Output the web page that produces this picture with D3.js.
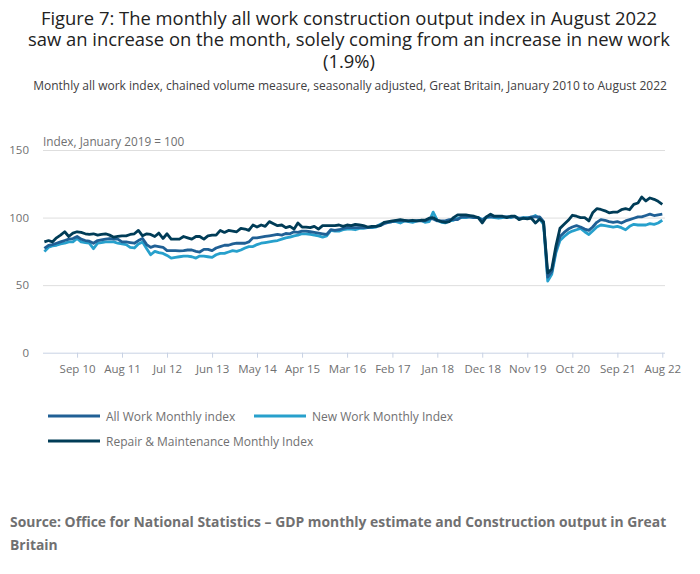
<!DOCTYPE html>
<html><head><meta charset="utf-8">
<script src="https://cdn.jsdelivr.net/npm/d3@7"></script>
<style>
body{margin:0;background:#fff;font-family:"Open Sans",sans-serif;}
svg{display:block}
</style></head>
<body><svg id="c" width="700" height="574"></svg>
<script>
const startMonth = "2010-01";
const allWork = [
77.2,79.5,80,81,82,83,84,84.5,86,84,83,82.5,81,83,83.5,84,84.5,84,84,82,82,81.5,81,83,84.5,80,78,79,78.5,78,
75.5,75.5,75.5,75.3,75.5,76,76,75,74.5,76.5,76.5,75.5,77.5,78.5,79.5,79.5,80.5,81,81,81,82,85,85,85.5,86,86.5,87,87.5,87,88.2,
88,89.5,89,90,90,89.5,89,88.5,88,87.5,91,90.5,91,92,92.5,92.5,92.5,92.5,92.5,92.5,93,93.5,94,95.5,96.5,97,97.5,97.5,97.5,97.5,
97.5,97.5,97.5,97.5,99,99,97.5,97.5,97.5,98.5,98.5,98.5,100.5,100.5,100.5,100,100,98,100.5,100.5,100.5,100.5,100.5,100.5,100.5,100.5,99.5,99.5,99.5,100.5,
100.5,100.5,97,56,60,76,86,89,91.5,93,94,93,91.5,90.5,93,96.5,98.5,98,97,96.5,97,96,97.5,98.5,99.5,100.5,100.5,101.5,102.5,101.5,
102,102.5];
const newWork = [
74.8,78,79,79.5,80.5,81,82,82,84.5,82,81.5,81,77,81,81.5,82,82,82,81,80.5,80,78,77.5,80.5,82,77,72.5,75,74,73.5,
72,70,70.5,71,71.5,71.5,71,70,71.5,71.5,71,70.5,72.5,73.5,73.5,74.5,75.5,75,76,77.5,78.5,78.5,80,81,81.5,82,82.5,83,84,85,
85.5,86.5,87,88,88,87.5,87,86.5,85.5,86.5,90.5,90,90,91,91.5,91.5,91,92,92,92.5,92.5,93,95,96,96.5,97,97,96,97.5,97,
96.5,97.5,98,96.5,97,104,98,96.5,96,97.5,98,99.5,100,100,100.5,100,100,98.5,100,100.5,100,99.5,100,100.5,100,101,99,100,100,100,
101.5,99,95,53,58,74,83,86,88.5,90,91,92,89.5,87.5,90,93,94.5,94,93.5,93,93.5,92.5,91,93.5,95,94.5,94.5,94.5,95.5,95,
96,98];
const repair = [
82,83,82,85,87,89.5,86,88.5,89.5,89,88,87.5,88,87,87.5,88,87,85.5,86,86.5,86.5,87.5,88,90.5,86.5,88,87.5,86,88.5,84.5,
88,84,84,84,86,85,84,86,86,84,86.5,87,87,90.5,89,90.5,90,89.5,92,91.5,90.5,94.5,93,94.5,93.5,97,95.5,94,94.5,92.5,
93.5,91.5,96,93,93,92.5,93.5,91.5,94,94,94,94,94.5,93.5,94.5,94,95,94.5,94,93,93.5,93.5,94,96.5,97,97.5,98,98.5,98,97.5,
98,97.5,98,98,99.5,100,98,97,96.5,97,100,102,102,102,101.5,101,100,96,100.5,102.5,101,101,101,100,101,101,98.5,99.5,99,99.5,
96,99,96.5,59,62,79,92,95,98,101.7,101,100,100,97.5,103.5,106.6,106,105,103.5,104,104,105.8,106.6,105.8,109.8,110.8,115.2,112.3,114.5,113.5,
112,109.8];
const seriesNames = ["All Work Monthly index","New Work Monthly Index","Repair & Maintenance Monthly Index"];
const seriesColors = ["#206095","#27a0cc","#003c57"];
const tickLabels = ["Sep 10","Aug 11","Jul 12","Jun 13","May 14","Apr 15","Mar 16","Feb 17","Jan 18","Dec 18","Nov 19","Oct 20","Sep 21","Aug 22"];
const yTicks = [0,50,100,150];
const titleLines = ["Figure 7: The monthly all work construction output index in August 2022","saw an increase on the month, solely coming from an increase in new work","(1.9%)"];
const subtitle = "Monthly all work index, chained volume measure, seasonally adjusted, Great Britain, January 2010 to August 2022";
const yLabel = "Index, January 2019 = 100";
const sourceLines = ["Source: Office for National Statistics \u2013 GDP monthly estimate and Construction output in Great","Britain"];

const svg = d3.select("#c");
const start = d3.timeParse("%Y-%m")(startMonth);
const dates = d3.range(allWork.length).map(i => d3.timeMonth.offset(start, i));
const data = [allWork, newWork, repair];

const pL = 43, pR = 665, pT = 150, pB = 352.7;
const x = d3.scaleTime().domain([dates[0], dates[dates.length-1]]).range([44.4, 662.3]);
const y = d3.scaleLinear().domain([0,150]).range([pB, pT]);

// title (one text block, wrapped into lines)
svg.append("text").attr("text-anchor","middle").attr("font-size", 18.4).attr("fill","#222")
  .selectAll("tspan").data(titleLines).join("tspan")
  .attr("x", 349).attr("y", (d,i)=>24.5 + i*21.5).text(d=>d);
svg.append("text").attr("x",350).attr("y",90).attr("text-anchor","middle")
  .attr("font-size",12).attr("fill","#414042").text(subtitle);

// grid
const yAxis = svg.append("g").attr("transform",`translate(${pL},0)`)
  .call(d3.axisLeft(y).tickValues(yTicks).tickSize(-(pR-pL)).tickFormat(d3.format("d")));
yAxis.select(".domain").remove();
yAxis.selectAll(".tick line").attr("stroke","#dedede").attr("stroke-width",1);
yAxis.selectAll(".tick line").filter(d=>d===0).remove();
yAxis.selectAll("text").attr("x",-14).attr("font-size",11.5).attr("fill","#707071").attr("font-family","Open Sans");

svg.append("text").attr("x",pL).attr("y",146).attr("font-size",11.8).attr("fill","#707071").text(yLabel);

// x axis
const fmt = d3.timeParse("%b %y");
const xAxis = svg.append("g").attr("transform",`translate(0,${pB})`)
  .call(d3.axisBottom(x).tickValues(tickLabels.map(fmt)).tickSize(5).tickFormat(d3.timeFormat("%b %y")));
xAxis.select(".domain").attr("d",`M${pL},0.5H${pR}`).attr("stroke","#c8d2e4");
xAxis.selectAll(".tick line").attr("stroke","#c8d2e4");
xAxis.selectAll("text").attr("font-size",11.5).attr("fill","#707071").attr("font-family","Open Sans").attr("dy","1.05em");

// lines
const line = d3.line().x((d,i)=>x(dates[i])).y(d=>y(d)).curve(d3.curveLinear);
svg.append("g").selectAll("path").data([1,0,2]).join("path")
  .attr("d", k=>line(data[k])).attr("fill","none")
  .attr("stroke", k=>seriesColors[k]).attr("stroke-width",2.8).attr("stroke-linejoin","round");

// legend
const legPos = [[48,416],[254,416],[48,441]];
const leg = svg.append("g").selectAll("g").data(seriesNames).join("g")
  .attr("transform",(d,i)=>`translate(${legPos[i][0]},${legPos[i][1]})`);
leg.append("line").attr("x1",0).attr("x2",52).attr("y1",0).attr("y2",0)
  .attr("stroke",(d,i)=>seriesColors[i]).attr("stroke-width",3);
leg.append("text").attr("x",58).attr("y",4.5).attr("font-size",12).attr("fill","#707071").text(d=>d);

// source
svg.append("text").attr("font-size",13.9).attr("font-weight","bold").attr("fill","#707071")
  .selectAll("tspan").data(sourceLines).join("tspan")
  .attr("x",10).attr("y",(d,i)=>527 + i*22.5).text(d=>d);
</script></body></html>
